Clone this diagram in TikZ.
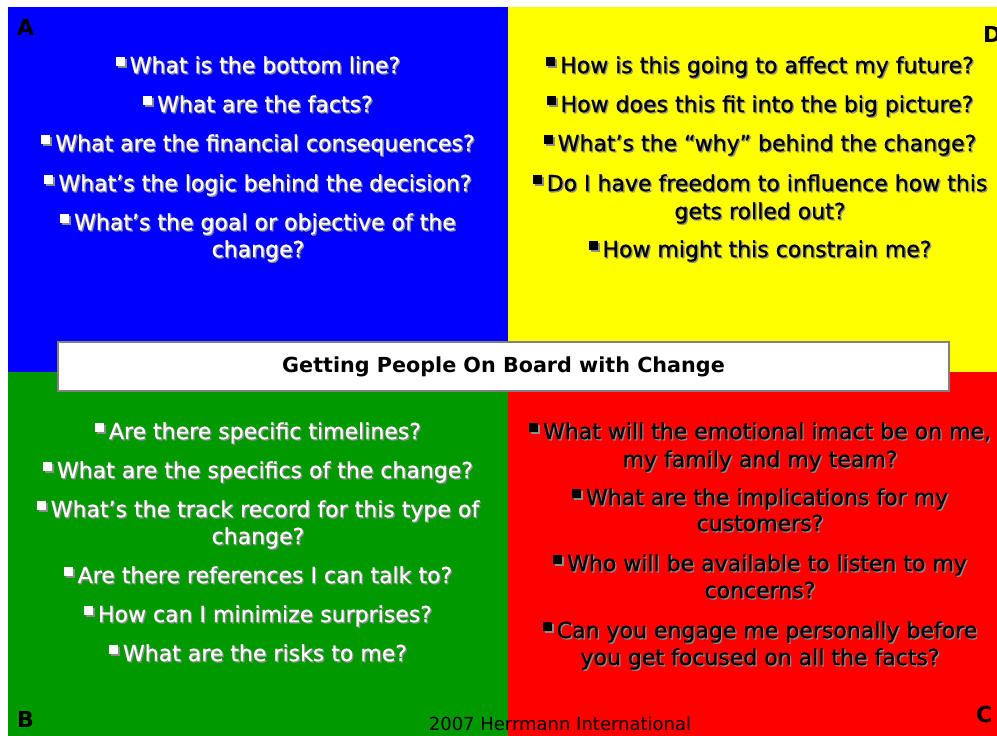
\documentclass[tikz,border=0pt]{standalone}
\usepackage{fontspec}
\setmainfont{DejaVu Sans}
\newfontfamily\itmfont{DejaVu Sans}[FakeBold=0.6]
\definecolor{qblue}{RGB}{0,0,255}
\definecolor{qyellow}{RGB}{255,255,0}
\definecolor{qgreen}{RGB}{0,153,0}
\definecolor{qred}{RGB}{255,0,0}
\definecolor{shd}{RGB}{140,140,140}
\definecolor{frame}{RGB}{128,128,128}
\newcommand\sht[2]{\rlap{\hspace{1.3pt}\raisebox{-1.3pt}{\textcolor{shd}{#2}}}\textcolor{#1}{#2}}
\newcommand\bul[1]{\raisebox{7pt}{\rlap{\hspace{2pt}\raisebox{-2pt}{\textcolor{shd}{\rule{9pt}{9pt}}}}\textcolor{#1}{\rule{9pt}{9pt}}}\hspace{5pt}}
\begin{document}
\begin{tikzpicture}[x=1pt,y=-1pt,
  itm/.style={anchor=base,inner sep=0pt,font=\itmfont\fontsize{22}{27}\selectfont},
  lab/.style={anchor=base west,inner sep=0pt,font=\fontsize{22}{26}\selectfont\bfseries}]
\useasboundingbox (0,0) rectangle (997,736);
\fill[white] (0,0) rectangle (997,736);
\fill[qblue] (8,7) rectangle (508,372);
\fill[qyellow] (508,7) rectangle (997,372);
\fill[qgreen] (8,372) rectangle (508,736);
\fill[qred] (508,372) rectangle (997,736);
% blue
\node[itm] (b1) at (258,73) {\bul{white}\sht{white}{What is the bottom line?}};
\node[itm] (b2) at (258,112) {\bul{white}\sht{white}{What are the facts?}};
\node[itm] (b3) at (258,151) {\bul{white}\sht{white}{What are the financial consequences?}};
\node[itm] (b4) at (258,191) {\bul{white}\sht{white}{What’s the logic behind the decision?}};
\node[itm] (b5) at (258,230) {\bul{white}\sht{white}{What’s the goal or objective of the}};
\node[itm] (b5b) at (258,257) {\sht{white}{change?}};
% yellow
\node[itm] (y1) at (760,73) {\bul{black}\sht{black}{How is this going to affect my future?}};
\node[itm] (y2) at (760,112) {\bul{black}\sht{black}{How does this fit into the big picture?}};
\node[itm] (y3) at (760,151) {\bul{black}\sht{black}{What’s the “why” behind the change?}};
\node[itm] (y4) at (760,191) {\bul{black}\sht{black}{Do I have freedom to influence how this}};
\node[itm] (y4b) at (760,219) {\sht{black}{gets rolled out?}};
\node[itm] (y5) at (760,257) {\bul{black}\sht{black}{How might this constrain me?}};
% green
\node[itm] (g1) at (258,439) {\bul{white}\sht{white}{Are there specific timelines?}};
\node[itm] (g2) at (258,478) {\bul{white}\sht{white}{What are the specifics of the change?}};
\node[itm] (g3) at (258,517) {\bul{white}\sht{white}{What’s the track record for this type of}};
\node[itm] (g3b) at (258,544) {\sht{white}{change?}};
\node[itm] (g4) at (258,583) {\bul{white}\sht{white}{Are there references I can talk to?}};
\node[itm] (g5) at (258,622) {\bul{white}\sht{white}{How can I minimize surprises?}};
\node[itm] (g6) at (258,661) {\bul{white}\sht{white}{What are the risks to me?}};
% red
\node[itm] (r1) at (760,439) {\bul{black}\sht{black}{What will the emotional imact be on me,}};
\node[itm] (r1b) at (760,467) {\sht{black}{my family and my team?}};
\node[itm] (r2) at (760,505) {\bul{black}\sht{black}{What are the implications for my}};
\node[itm] (r2b) at (760,531) {\sht{black}{customers?}};
\node[itm] (r3) at (760,571) {\bul{black}\sht{black}{Who will be available to listen to my}};
\node[itm] (r3b) at (760,598) {\sht{black}{concerns?}};
\node[itm] (r4) at (760,638) {\bul{black}\sht{black}{Can you engage me personally before}};
\node[itm] (r4b) at (760,665) {\sht{black}{you get focused on all the facts?}};
% title box
\node[draw=frame,line width=2pt,fill=white,minimum width=891pt,minimum height=49pt,inner sep=0pt,font=\fontsize{20.7}{24}\selectfont\bfseries] (title) at (503.5,366.5) {Getting People On Board with Change};
% labels
\node[lab] (la) at (17,35) {A};
\node[lab] (ld) at (983,42) {D};
\node[lab] (lb) at (17,727) {B};
\node[lab] (lc) at (976,722) {C};
\node[anchor=base,inner sep=0pt,font=\fontsize{18}{22}\selectfont] (foot) at (560,730) {2007 Herrmann International};
\end{tikzpicture}
\end{document}
